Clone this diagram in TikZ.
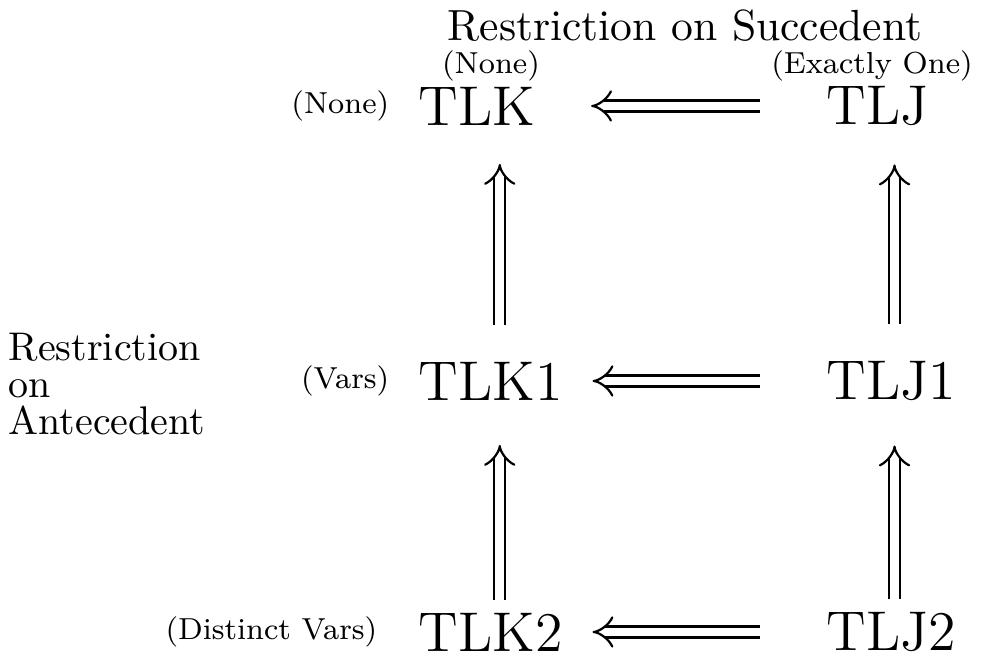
\documentclass[tikz,border=0pt]{standalone}
\usetikzlibrary{arrows.meta,positioning}

\begin{document}
\begin{tikzpicture}[x=0.25pt,y=-0.25pt,
    sys/.style={font=\fontsize{14}{16}\selectfont, inner sep=0pt, anchor=west},
    lbl/.style={font=\fontsize{7.6}{9}\selectfont, inner sep=0pt},
    hdr/.style={font=\fontsize{10}{9.3}\selectfont, inner sep=0pt},
    impl/.style={double, double distance=2.2pt, line width=0.55pt, -{Implies}}]
    \useasboundingbox (0,0) rectangle (1000,660);
    %\draw[gray!30] (0,0) grid[step=50] (1000,660);

    % the six systems
    \node[sys] (tlk)    at (418,106) {TLK};
    \node[sys] (tlj)    at (826,106) {TLJ};
    \node[sys] (tlkone) at (418,381) {TLK1};
    \node[sys] (tljone) at (826,381) {TLJ1};
    \node[sys] (tlktwo) at (418,632) {TLK2};
    \node[sys] (tljtwo) at (826,632) {TLJ2};

    % column and row labels
    \node[lbl] (colnone) at (491,66) {(None)};
    \node[lbl] (colone)  at (872,66) {(Exactly One)};
    \node[lbl, left=7pt of tlk]    (rownone)  {(None)};
    \node[lbl, left=7pt of tlkone] (rowvars)  {(Vars)};
    \node[lbl, left=10pt of tlktwo] (rowdist) {(Distinct Vars)};

    \node[hdr, font=\fontsize{10.9}{12}\selectfont] (succ) at (685,26)
        {Restriction on Succedent};
    \node[hdr, align=left, anchor=west] (ante) at (8,384)
        {Restriction\\on\\Antecedent};

    % implications
    \draw[impl, shorten <=16.5pt, shorten >=13.75pt] (tlj) -- (tlk);
    \draw[impl, shorten <=16.5pt, shorten >=7.25pt] (tljone) -- (tlkone);
    \draw[impl, shorten <=16.5pt, shorten >=7.25pt] (tljtwo) -- (tlktwo);
    \draw[impl, shorten <=9pt, shorten >=9.5pt]
        ([xshift=2.25pt]tlkone.north) -- ([xshift=2.25pt]tlkone.north |- tlk.south);
    \draw[impl, shorten <=9pt, shorten >=9.5pt]
        ([xshift=0.75pt]tljone.north) -- ([xshift=0.75pt]tljone.north |- tlj.south);
    \draw[impl, shorten <=3pt, shorten >=11pt]
        ([xshift=2.25pt]tlktwo.north) -- ([xshift=2.25pt]tlktwo.north |- tlkone.south);
    \draw[impl, shorten <=3pt, shorten >=11pt]
        ([xshift=0.75pt]tljtwo.north) -- ([xshift=0.75pt]tljtwo.north |- tljone.south);
\end{tikzpicture}
\end{document}
